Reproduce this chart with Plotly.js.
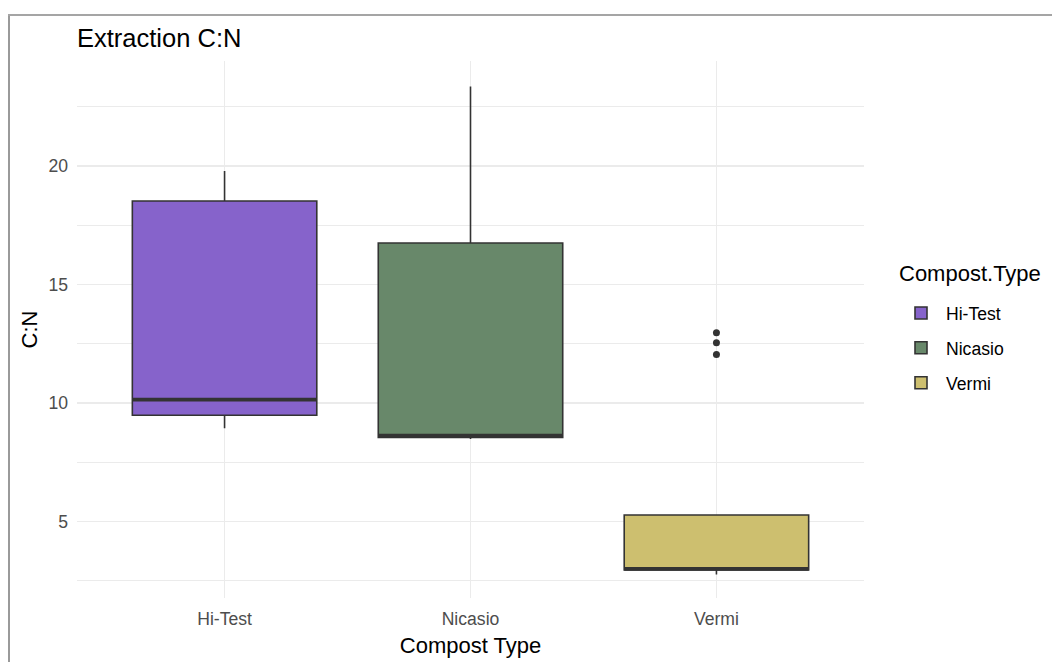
<!DOCTYPE html>
<html>
<head>
<meta charset="utf-8">
<script src="https://cdn.plot.ly/plotly-3.0.1.min.js"></script>
<style>
html,body{margin:0;padding:0;background:#fff;}
#chart{width:1052px;height:662px;}
</style>
</head>
<body>
<div id="chart"></div>
<script>
// Data
const categories = ["Hi-Test", "Nicasio", "Vermi"];
const lowerWhisker = [8.93, 8.48, 2.76];
const q1 = [9.48, 8.55, 2.95];
const median = [10.14, 8.62, 3.0];
const q3 = [18.52, 16.75, 5.27];
const upperWhisker = [19.79, 23.35, 5.27];
const outlierCategory = ["Vermi", "Vermi", "Vermi"];
const outlierValues = [12.96, 12.54, 12.05];
const fillColors = ["#8663CB", "#68886A", "#CDBF6F"];

const boxWidth = 0.75;
const lineColor = "#333333";
const font = "Liberation Sans, Arial, sans-serif";

const traces = [];
categories.forEach((c, i) => {
  traces.push({
    type: "box",
    name: c,
    legendgroup: c,
    x: [i],
    q1: [q1[i]],
    median: [median[i]],
    q3: [q3[i]],
    lowerfence: [lowerWhisker[i]],
    upperfence: [upperWhisker[i]],
    width: boxWidth,
    whiskerwidth: 0,
    fillcolor: fillColors[i],
    line: {color: lineColor, width: 1.6},
    boxpoints: false,
    hoverinfo: "skip"
  });
});
categories.forEach((c, i) => {
  traces.push({
    type: "scatter",
    mode: "lines",
    x: [i - boxWidth / 2, i + boxWidth / 2],
    y: [median[i], median[i]],
    line: {color: lineColor, width: 3.6},
    showlegend: false,
    legendgroup: c,
    hoverinfo: "skip"
  });
});
traces.push({
  type: "scatter",
  mode: "markers",
  x: outlierCategory.map(c => categories.indexOf(c)),
  y: outlierValues,
  marker: {color: lineColor, size: 7},
  showlegend: false,
  legendgroup: "Vermi",
  hoverinfo: "skip"
});

const L = 77, R = 864, T = 61, B = 598, W = 1052, H = 662;
const pw = R - L, ph = B - T;
const px = v => (v - L) / pw;
const py = v => (B - v) / ph;

const layout = {
  width: W, height: H,
  margin: {l: L, r: W - R, t: T, b: H - B, pad: 0},
  paper_bgcolor: "#ffffff",
  plot_bgcolor: "#ffffff",
  font: {family: font, color: "#000000"},
  showlegend: true,
  title: {
    text: "Extraction C:N",
    font: {family: font, size: 25.5, color: "#000000"},
    xref: "paper", x: 0, xanchor: "left",
    yref: "container", y: 1 - 38.5 / H, yanchor: "middle"
  },
  xaxis: {
    type: "linear",
    range: [-0.6, 2.6],
    tickvals: [0, 1, 2],
    ticktext: categories,
    showgrid: true, gridcolor: "#EBEBEB", gridwidth: 1.4,
    zeroline: false, showline: false, ticks: "",
    tickfont: {family: font, size: 17.6, color: "#4D4D4D"},
    ticklabelstandoff: 8,
    title: {text: "Compost Type", font: {family: font, size: 22, color: "#000000"}, standoff: 10}
  },
  yaxis: {
    range: [1.77, 24.43],
    tick0: 0, dtick: 5,
    showgrid: true, gridcolor: "#EBEBEB", gridwidth: 1.4,
    minor: {dtick: 2.5, tick0: 0, showgrid: true, gridcolor: "#EBEBEB", gridwidth: 1, ticks: ""},
    zeroline: false, showline: false, ticks: "",
    tickfont: {family: font, size: 17.6, color: "#4D4D4D"},
    ticklabelstandoff: 8,
    title: {text: "C:N", font: {family: font, size: 22, color: "#000000"}, standoff: 4}
  },
  legend: {
    x: px(896), xanchor: "left",
    y: py(348), yanchor: "middle",
    itemwidth: 40,
    traceorder: "grouped",
    tracegroupgap: 9,
    font: {family: font, size: 17.6, color: "#000000"},
    bgcolor: "rgba(0,0,0,0)"
  },
  annotations: [
    {text: "Compost.Type", xref: "paper", yref: "paper", x: px(897), y: py(273),
     xanchor: "left", yanchor: "middle", showarrow: false,
     font: {family: font, size: 22, color: "#000000"}}
  ],
  shapes: [
    {type: "line", xref: "paper", yref: "paper", x0: px(9), x1: px(9), y0: py(15), y1: py(H + 5),
     line: {color: "#9A9A9A", width: 2}},
    {type: "line", xref: "paper", yref: "paper", x0: px(8), x1: px(W + 5), y0: py(15), y1: py(15),
     line: {color: "#A5A5A5", width: 2}}
  ]
};

Plotly.newPlot("chart", traces, layout, {displayModeBar: false, staticPlot: true});
</script>
</body>
</html>
